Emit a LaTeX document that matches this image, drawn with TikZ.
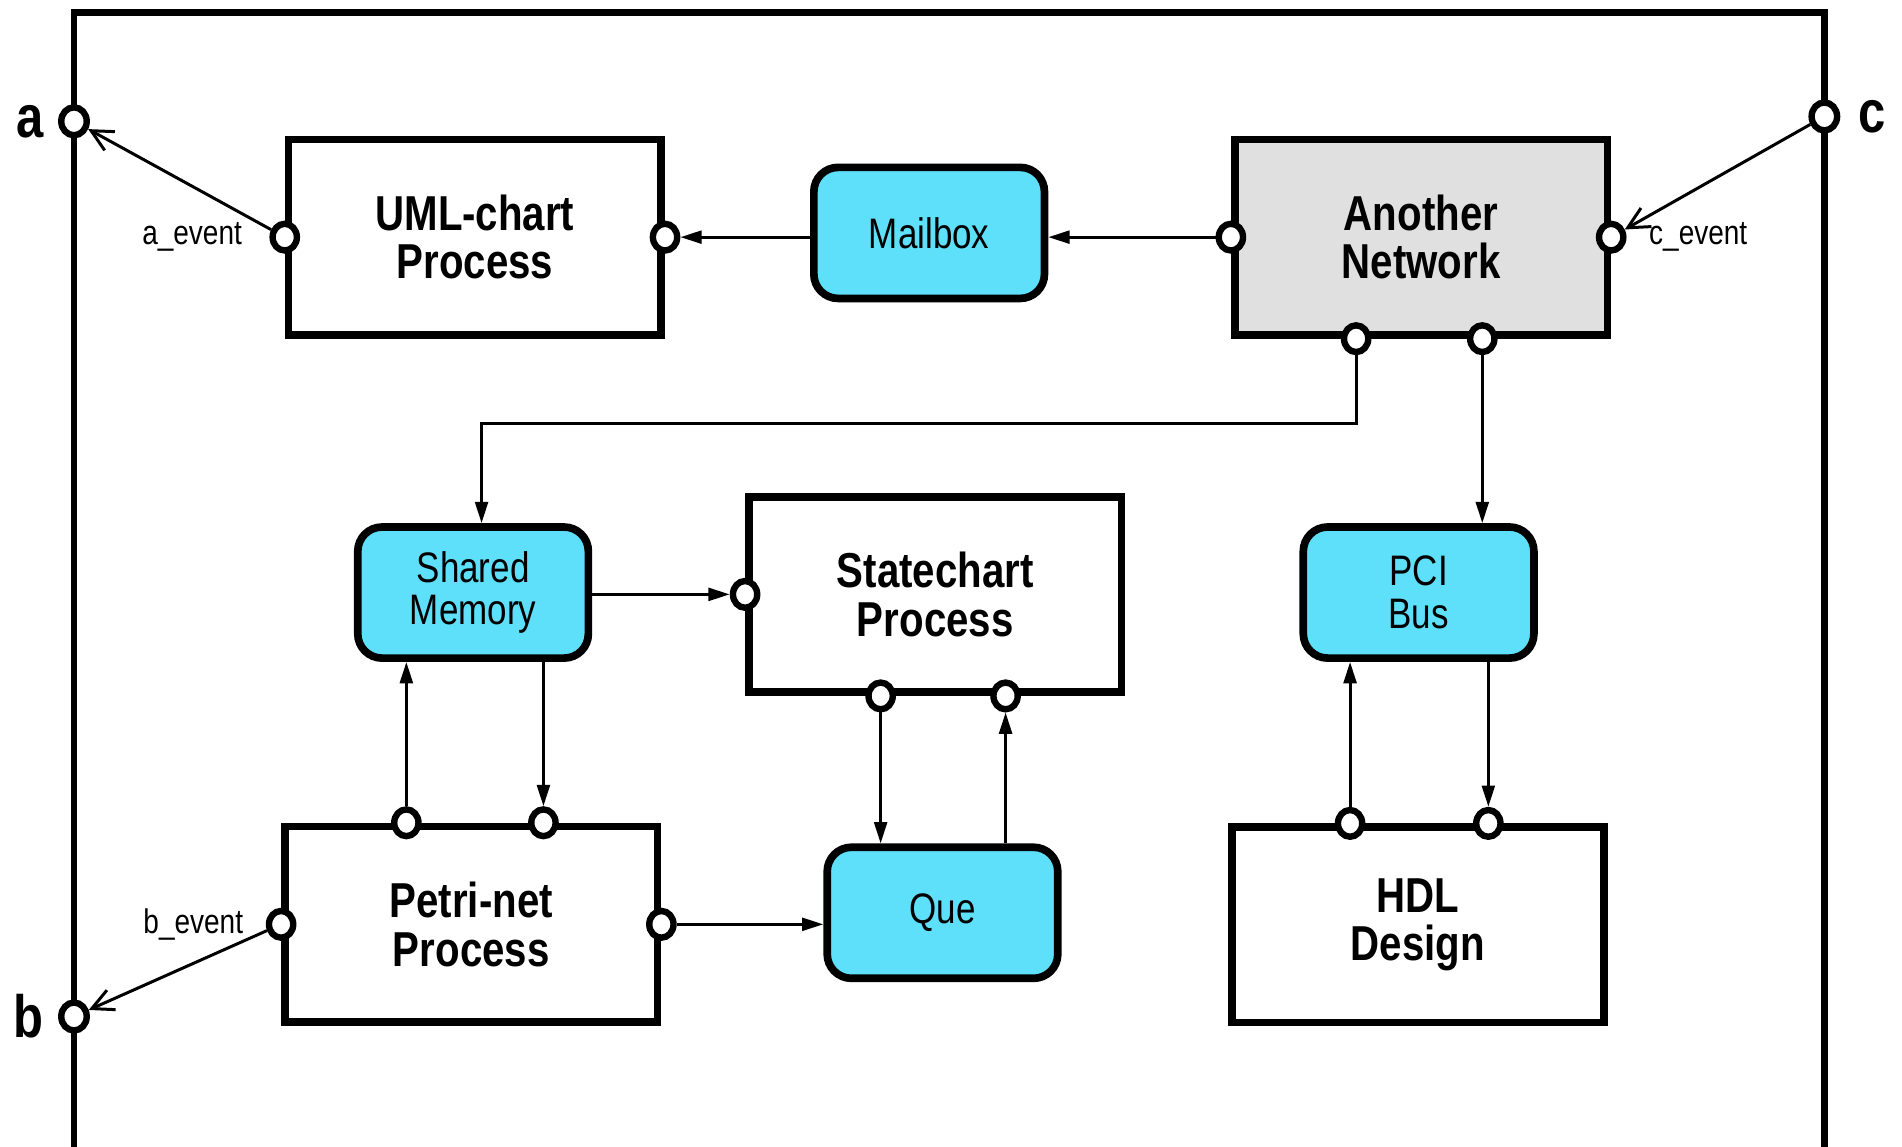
\documentclass[tikz,border=0pt]{standalone}
\usepackage{fontspec}
\setmainfont{Liberation Sans}[FakeStretch=0.82]
\usetikzlibrary{arrows.meta,positioning,shapes.geometric}

\definecolor{chancyan}{RGB}{94,224,250}
\definecolor{netgray}{RGB}{224,224,224}

\begin{document}
\begin{tikzpicture}[x=0.01cm,y=-0.01cm,>={Triangle[length=5pt,width=3pt]}]
 \tikzstyle{proc} = [draw,line width=1.8pt,minimum width=3.07cm,minimum height=1.61cm,align=center,font=\bfseries\fontsize{11.5}{11.4}\selectfont]
 \tikzstyle{chan} = [draw,line width=1.8pt,rounded corners=0.2cm,fill=chancyan,minimum width=1.9cm,minimum height=1.08cm,align=center,font=\fontsize{10}{10}\selectfont]
 \tikzstyle{port} = [draw,ellipse,fill=white,line width=1.5pt,inner sep=0,minimum width=0.2cm,minimum height=0.22cm]
 \tikzstyle{bigport} = [port,minimum width=0.21cm,minimum height=0.23cm]
 \tikzstyle{flow} = [line width=0.7pt,->]
 \tikzstyle{evt} = [line width=0.7pt,-{Straight Barb[length=5pt,width=5pt]}]
 \tikzstyle{evtlbl} = [inner sep=0,font=\fontsize{8}{8}\selectfont]
 \tikzstyle{extlbl} = [inner sep=0,font=\bfseries\fontsize{14}{14}\selectfont]
 \useasboundingbox (0,0) rectangle (1568,945);

 % outer network frame, open at the bottom
 \draw[line width=1.6pt] (61,960) -- (61,10) -- (1504,10) -- (1504,960);

 % processes and channels
 \node[proc] (uml) at (391.5,195.5) {UML-chart\\Process};
 \node[chan] (mbox) at (766,192) {Mailbox};
 \node[proc,fill=netgray] (anet) at (1171.5,195.5) {Another\\Network};
 \node[chan] (shm) at (390,488.5) {Shared\\Memory};
 \node[proc] (stc) at (771,490) {Statechart\\Process};
 \node[chan] (pci) at (1169.5,488.5) {PCI\\Bus};
 \node[proc] (petri) at (388.5,762) {Petri-net\\Process};
 \node[chan] (que) at (777,752.5) {Que};
 \node[proc] (hdl) at (1169,762.5) {HDL\\Design};

 % ports on the frame
 \node[bigport] (pa) at (61,100) {};
 \node[bigport] (pb) at (61,838) {};
 \node[bigport] (pc) at (1504,96) {};
 \node[extlbl,left=0.11cm of pa] (pa-lbl) {a};
 \node[extlbl,left=0.11cm of pb] (pb-lbl) {b};
 \node[extlbl,right=0.14cm of pc] (pc-lbl) {c};

 % ports on the boxes
 \node[port] (uml-w) at (uml.west) {};
 \node[port] (uml-e) at (uml.east) {};
 \node[port] (anet-w) at (anet.west) {};
 \node[port] (anet-e) at (anet.east) {};
 \node[port] (anet-s1) at (anet.south -| 1118,0) {};
 \node[port] (anet-s2) at (anet.south -| 1222,0) {};
 \node[port] (stc-w) at (stc.west) {};
 \node[port] (stc-s1) at (stc.south -| 726,0) {};
 \node[port] (stc-s2) at (stc.south -| 829,0) {};
 \node[port] (petri-w) at (petri.west) {};
 \node[port] (petri-e) at (petri.east) {};
 \node[port] (petri-n1) at (petri.north -| 335,0) {};
 \node[port] (petri-n2) at (petri.north -| 448,0) {};
 \node[port] (hdl-n1) at (hdl.north -| 1113,0) {};
 \node[port] (hdl-n2) at (hdl.north -| 1227,0) {};

 \node[evtlbl,left=0.22cm of uml-w] (uml-w-lbl) {a\_event};
 \node[evtlbl,left=0.18cm of petri-w] (petri-w-lbl) {b\_event};
 \node[evtlbl,right=0.18cm of anet-e] (anet-e-lbl) {c\_event};

 % event links to the frame
 \draw[evt] (uml-w) -- (pa);
 \draw[evt] (petri-w) -- (pb);
 \draw[evt] (pc) -- (anet-e);

 % data flow
 \draw[flow] (mbox.west |- uml-e) -- (uml-e);
 \draw[flow] (anet-w) -- (anet-w -| mbox.east);
 \draw[flow] (anet-s1) -- (anet-s1 |- 0,349) -| ([xshift=0.07cm]shm.north);
 \draw[flow] (anet-s2) -- (anet-s2 |- pci.north);
 \draw[flow] (stc-w -| shm.east) -- (stc-w);
 \draw[flow] (petri-n1) -- (petri-n1 |- shm.south);
 \draw[flow] (petri-n2 |- shm.south) -- (petri-n2);
 \draw[flow] (stc-s1) -- (stc-s1 |- que.north);
 \draw[flow] (stc-s2 |- que.north) -- (stc-s2);
 \draw[flow] (petri-e) -- (petri-e -| que.west);
 \draw[flow] (hdl-n1) -- (hdl-n1 |- pci.south);
 \draw[flow] (hdl-n2 |- pci.south) -- (hdl-n2);
\end{tikzpicture}
\end{document}
